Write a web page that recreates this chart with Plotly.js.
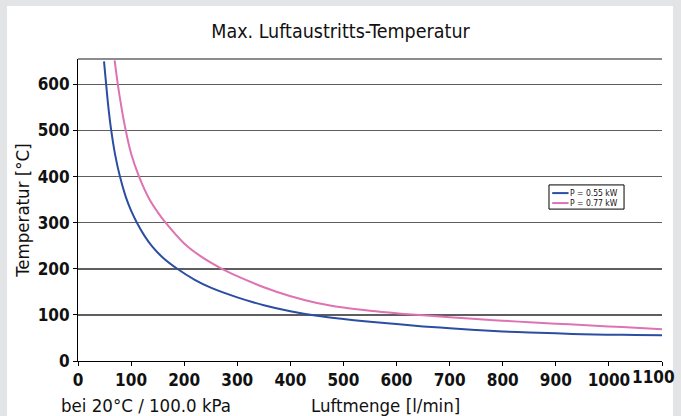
<!DOCTYPE html>
<html>
<head>
<meta charset="utf-8">
<script src="https://cdn.plot.ly/plotly-3.0.1.min.js"></script>
<style>
  html, body { margin: 0; padding: 0; background: #e3e4e6; width: 681px; height: 416px; overflow: hidden; }
  #chart { position: absolute; left: 0; top: 0; width: 681px; height: 416px; }
</style>
</head>
<body>
<div id="chart"></div>
<script>
// Series names
const seriesNames = ["P = 0.55 kW", "P = 0.77 kW"];
const seriesColors = ["#2b4ea2", "#de73b3"];

// P = 0.55 kW  (Luftmenge [l/min] -> Temperatur [°C])
const flow055 = [49, 53, 57, 62, 70, 79, 90, 100, 111, 125, 140, 160, 187, 220, 250, 300, 350, 400, 450, 500, 550, 600, 650, 700, 750, 800, 850, 900, 950, 1000, 1050, 1100];
const temp055 = [650, 600, 553, 505, 447, 400, 356, 326, 300, 272, 248, 224, 200, 176, 159, 138, 121, 108, 98, 91, 85, 80, 75, 71, 67, 64, 62, 60, 58, 57, 56.5, 56];

// P = 0.77 kW
const flow077 = [69, 75, 80, 88, 100, 115, 134, 150, 165, 200, 230, 271, 300, 350, 399, 450, 500, 550, 600, 650, 700, 750, 800, 850, 900, 950, 1000, 1050, 1100];
const temp077 = [652, 600, 563, 511, 450, 400, 352, 323, 300, 255, 228, 200, 184, 160, 141, 126, 116, 109, 103.5, 99, 95, 91, 87.5, 84, 81, 78, 75, 72, 69];

// Axis ticks
const xTicks = [0, 100, 200, 300, 400, 500, 600, 700, 800, 900, 1000, 1100];
const yTicks = [0, 100, 200, 300, 400, 500, 600];

const titleText = "Max. Luftaustritts-Temperatur";
const yTitleText = "Temperatur [°C]";
const xTitleText = "Luftmenge [l/min]";
const noteText = "bei 20°C / 100.0 kPa";

const FONT = "'DejaVu Sans Condensed', 'Liberation Sans Narrow', 'Arial Narrow', sans-serif";
const TICKFONT = { family: FONT, size: 17, color: "#111", weight: "bold" };

const traces = [
  { x: flow055, y: temp055, name: seriesNames[0], type: "scatter", mode: "lines",
    line: { color: seriesColors[0], width: 2, shape: "spline", smoothing: 1 }, showlegend: false, cliponaxis: true },
  { x: flow077, y: temp077, name: seriesNames[1], type: "scatter", mode: "lines",
    line: { color: seriesColors[1], width: 2, shape: "spline", smoothing: 1 }, showlegend: false, cliponaxis: true }
];

// legend geometry (paper coords)
const lgX0 = 0.8065, lgX1 = 0.935, lgY0 = 0.503, lgY1 = 0.583;
const lgLineX0 = 0.812, lgLineX1 = 0.840;
const lgRowY = [0.556, 0.523];

const shapes = [
  // white panel behind the chart (gray frame around it)
  { type: "rect", xref: "paper", yref: "paper", layer: "below", x0: -0.1216, x1: 1.0188, y0: -0.19, y1: 1.1755,
    fillcolor: "#ffffff", line: { width: 0 } },
  { type: "line", xref: "paper", yref: "paper", x0: 0, x1: 1, y0: 1, y1: 1, line: { color: "#666666", width: 1.5 } },
  { type: "rect", xref: "paper", yref: "paper", x0: lgX0, x1: lgX1, y0: lgY0, y1: lgY1,
    fillcolor: "#ffffff", line: { color: "#000000", width: 1 } }
];
const lastTick = xTicks[xTicks.length - 1];
const annotations = [
  { xref: "paper", yref: "paper", x: -0.0325, y: -0.149, xanchor: "left", yanchor: "middle",
    text: noteText, showarrow: false, font: { family: FONT, size: 18.5, color: "#111" } },
  { xref: "paper", yref: "paper", x: 0.527, y: -0.149, xanchor: "center", yanchor: "middle",
    text: xTitleText, showarrow: false, font: { family: FONT, size: 18.5, color: "#111" } },
  // last x tick label: pulled left so it stays inside the white panel, as in the reference
  { xref: "x", yref: "paper", x: lastTick, y: 0, xanchor: "right", yanchor: "top", xshift: 14, yshift: -5,
    text: String(lastTick), showarrow: false, font: TICKFONT, borderpad: 0 }
];
seriesNames.forEach((nm, i) => {
  shapes.push({ type: "line", xref: "paper", yref: "paper", x0: lgLineX0, x1: lgLineX1, y0: lgRowY[i], y1: lgRowY[i],
    line: { color: seriesColors[i], width: 2 } });
  annotations.push({ xref: "paper", yref: "paper", x: lgLineX1, y: lgRowY[i], xanchor: "left", yanchor: "middle",
    text: nm, showarrow: false, font: { family: FONT, size: 8.5, color: "#111" }, borderpad: 0 });
});

const xTickText = xTicks.map(v => v === lastTick ? "" : String(v));

const layout = {
  width: 681, height: 416,
  margin: { l: 78, r: 19, t: 59, b: 55, pad: 0 },
  paper_bgcolor: "#e3e4e6",
  plot_bgcolor: "#ececec",
  font: { family: FONT, color: "#111" },
  title: { text: titleText, x: 0.5, xref: "container", xanchor: "center", y: 1 - 31 / 416, yref: "container", yanchor: "middle",
    font: { family: FONT, size: 19.5, color: "#111" } },
  xaxis: {
    range: [0, 1100], tickvals: xTicks, ticktext: xTickText, tickangle: 0,
    showgrid: false, zeroline: false,
    showline: true, linecolor: "#000", linewidth: 1,
    ticks: "outside", ticklen: 4, tickcolor: "#000", tickwidth: 1,
    tickfont: TICKFONT
  },
  yaxis: {
    range: [0, 655], tickvals: yTicks, ticktext: yTicks.map(String),
    showgrid: true, gridcolor: "#5e5e5e", gridwidth: 1.5, zeroline: false,
    showline: true, linecolor: "#000", linewidth: 1,
    ticks: "outside", ticklen: 4, tickcolor: "#000", tickwidth: 1,
    tickfont: TICKFONT,
    title: { text: yTitleText, standoff: 3, font: { family: FONT, size: 18.5, color: "#111" } }
  },
  shapes: shapes,
  annotations: annotations
};

Plotly.newPlot("chart", traces, layout, { staticPlot: true, displayModeBar: false });
</script>
</body>
</html>
